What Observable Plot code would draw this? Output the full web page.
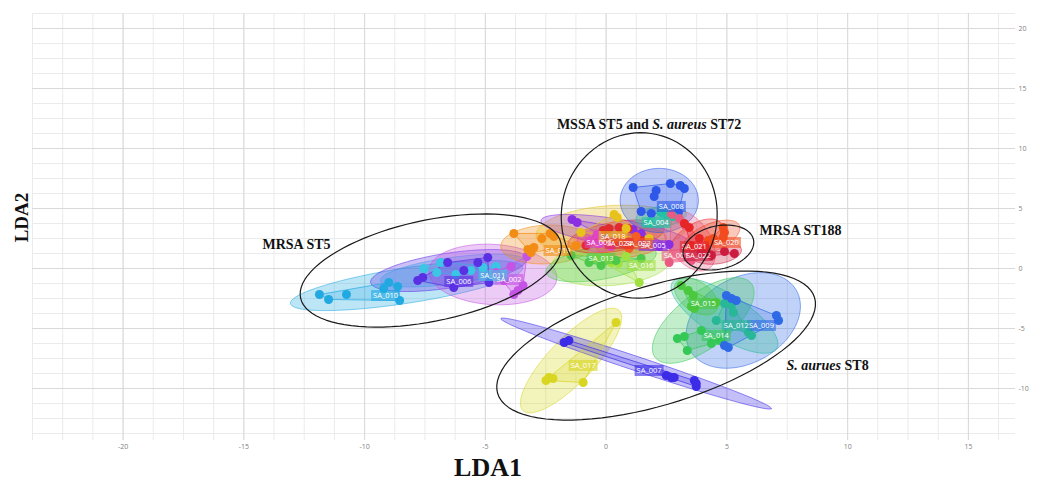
<!DOCTYPE html>
<html><head><meta charset="utf-8">
<script src="https://cdn.jsdelivr.net/npm/d3@7"></script>
<script src="https://cdn.jsdelivr.net/npm/@observablehq/plot@0.6"></script>
<style>
html,body{margin:0;padding:0;background:#fff;}
#chart{width:1040px;height:480px;}
</style></head><body><div id="chart"></div>
<script>
// ---- data ----
const groupNames = ["SA_001","SA_002","SA_003","SA_004","SA_005","SA_006","SA_007","SA_008","SA_009","SA_010","SA_011","SA_012","SA_013","SA_014","SA_015","SA_016","SA_017","SA_018","SA_019","SA_020","SA_021","SA_022","SA_023","SA_024"];
const groupColors = ["#ea5a82","#c453e6","#df46c4","#22c2a4","#8a2fe2","#5a30e4","#3c2ce8","#2d58ea","#2f6ae6","#22a9e2","#3ac6e4","#28b898","#4cc84a","#34c856","#4ac83e","#a0e040","#d8d622","#e8c21c","#f28c14","#f24c1e","#e62626","#cc1c40","#f45e26","#e02c2c"];
// label positions (LDA1, LDA2) of each group's name tag, same order as groupNames
const labelX = [2.90,-4.02,-0.29,2.07,1.95,-6.10,1.78,2.70,6.43,-9.13,-4.69,5.39,-0.21,4.56,4.02,1.45,-0.95,0.29,-1.99,4.98,3.65,3.82,1.33,0.54];
const labelY = [1.08,-0.92,2.17,3.83,1.92,-1.08,-8.5,5.17,-4.75,-2.25,-0.58,-4.75,0.83,-5.58,-2.92,0.25,-8.08,2.67,1.5,2.17,1.83,1.08,2.08,2.08];

const xTicks = [-20,-15,-10,-5,0,5,10,15];
const yTicks = [-10,-5,0,5,10,15,20];

// [group, LDA1, LDA2]
const pointRows = [
  ["SA_010",-11.87,-2.17],["SA_010",-11.49,-2.58],["SA_010",-10.75,-2.17],["SA_010",-9.21,-1.67],["SA_010",-9.00,-1.17],["SA_010",-8.63,-1.5],["SA_010",-8.55,-2.67],
  ["SA_011",-7.55,0],["SA_011",-7.01,-0.33],["SA_011",-6.22,-0.5],["SA_011",-5.60,-0.17],["SA_011",-5.10,0.08],["SA_011",-4.56,0.17],["SA_011",-6.85,0.5],
  ["SA_006",-7.80,-1.0],["SA_006",-7.59,-0.75],["SA_006",-6.56,0.5],["SA_006",-6.31,-1.58],["SA_006",-5.31,0.5],["SA_006",-4.90,0.92],["SA_006",-4.85,-1.17],["SA_006",-5.89,-0.17],
  ["SA_002",-4.56,-0.33],["SA_002",-3.94,0.17],["SA_002",-3.28,1.0],["SA_002",-3.44,-1.42],["SA_002",-3.65,-1.83],["SA_002",-3.82,-2.17],["SA_002",-4.23,-1.0],
  ["SA_019",-3.82,2.92],["SA_019",-3.24,1.58],["SA_019",-3.11,1.33],["SA_019",-2.99,1.75],["SA_019",-2.66,2.5],["SA_019",-2.32,2.92],["SA_019",-2.16,2.67],["SA_019",-1.24,1.92],
  ["SA_008",1.12,6.75],["SA_008",2.07,6.5],["SA_008",1.99,6.0],["SA_008",2.66,7.08],["SA_008",3.07,6.92],["SA_008",3.24,6.67],["SA_008",2.99,4.67],["SA_008",1.45,4.75],["SA_008",1.87,4.58],
  ["SA_005",-1.41,4.08],["SA_005",-1.20,3.83],["SA_005",-0.08,2.67],["SA_005",1.12,3.25],["SA_005",1.45,2.92],["SA_005",2.20,1.83],["SA_005",2.61,2.0],
  ["SA_024",-0.12,3.17],["SA_024",0.12,3.33],["SA_024",0.54,3.42],["SA_024",0.91,3.33],["SA_024",-0.41,2.5],["SA_024",1.45,2.33],["SA_024",-0.83,1.92],
  ["SA_023",0.62,2.5],["SA_023",1.24,2.67],["SA_023",1.66,2.0],["SA_023",0.95,1.67],["SA_023",0.29,2.08],
  ["SA_003",-0.62,2.33],["SA_003",-0.29,2.08],["SA_003",-0.37,2.83],["SA_003",0.21,1.83],
  ["SA_016",0.21,0.5],["SA_016",0.50,0.42],["SA_016",0,0.92],["SA_016",0.83,1.0],["SA_016",1.37,-1.17],["SA_016",-0.41,0.83],
  ["SA_013",-0.71,0.5],["SA_013",-0.21,0.25],["SA_013",0.41,0.67],["SA_013",-1.45,1.08],["SA_013",1.45,0.83],
  ["SA_018",0.33,4.5],["SA_018",0.46,4.25],["SA_018",-1.04,3.0],["SA_018",1.78,2.5],["SA_018",0.83,3.33],
  ["SA_004",2.28,4.67],["SA_004",2.49,4.5],["SA_004",2.78,4.33],["SA_004",1.78,3.83],
  ["SA_001",2.70,4.5],["SA_001",3.03,4.17],["SA_001",3.28,3.58],["SA_001",3.53,0.67],["SA_001",2.61,0.5],["SA_001",3.94,1.92],
  ["SA_020",4.85,3.42],["SA_020",4.90,3.0],["SA_020",4.85,2.58],["SA_020",4.23,2.33],["SA_020",4.44,2.5],
  ["SA_021",3.24,3.75],["SA_021",3.44,3.42],["SA_021",3.86,2.5],["SA_021",4.15,1.67],["SA_021",3.53,1.92],
  ["SA_022",4.90,1.42],["SA_022",5.31,1.25],["SA_022",4.36,1.08],["SA_022",3.94,1.33],
  ["SA_015",3.11,-1.42],["SA_015",3.40,-1.83],["SA_015",3.61,-2.25],["SA_015",3.53,-3.17],["SA_015",3.65,-3.33],["SA_015",4.56,-2.83],
  ["SA_014",2.95,-5.83],["SA_014",3.24,-5.67],["SA_014",3.36,-6.83],["SA_014",4.36,-6.25],["SA_014",4.69,-6.0],["SA_014",3.94,-5.17],
  ["SA_012",4.90,-2.92],["SA_012",5.19,-3.08],["SA_012",5.27,-3.67],["SA_012",5.89,-5.33],["SA_012",6.02,-5.58],["SA_012",4.56,-4.33],
  ["SA_009",4.98,-2.25],["SA_009",5.19,-2.5],["SA_009",7.05,-3.92],["SA_009",7.14,-4.33],["SA_009",4.90,-6.42],["SA_009",5.06,-6.58],["SA_009",5.39,-2.67],
  ["SA_017",0.41,-4.5],["SA_017",-2.49,-9.33],["SA_017",-2.37,-9.08],["SA_017",-2.20,-9.17],["SA_017",-0.95,-9.5],
  ["SA_007",-1.74,-6.17],["SA_007",-1.54,-6.0],["SA_007",2.49,-8.92],["SA_007",2.70,-9.08],["SA_007",2.82,-9.08],["SA_007",3.65,-9.33],["SA_007",3.73,-9.58],["SA_007",3.73,-9.83]
];

// confidence ellipses: [group, centre LDA1, centre LDA2, half major axis dLDA1, dLDA2, minor/major ratio]
const ellipseRows = [
  ["SA_010",-8.26,-1.42,4.81,1.5,0.15],
  ["SA_011",-6.35,-0.17,2.99,0.83,0.18],
  ["SA_006",-6.51,-0.17,3.24,1.0,0.22],
  ["SA_002",-4.69,-0.5,2.65,-0.33,0.47],
  ["SA_019",-2.45,2.0,1.91,0.17,0.42],
  ["SA_018",0.21,3.17,3.11,0.42,0.33],
  ["SA_016",0.21,0.5,2.49,0.42,0.38],
  ["SA_013",-0.21,0.5,2.28,0.83,0.3],
  ["SA_005",0.41,3.0,3.11,-1.0,0.18],
  ["SA_024",0.41,2.67,1.99,0.67,0.3],
  ["SA_023",1.04,2.17,1.45,0.42,0.4],
  ["SA_003",-0.29,2.33,0.91,0,0.5],
  ["SA_008",2.20,5.67,1.62,0,0.82],
  ["SA_004",2.28,4.33,1.04,0.25,0.4],
  ["SA_001",3.44,2.33,0.83,-2.33,0.6],
  ["SA_020",4.36,2.58,1.16,1.0,0.45],
  ["SA_021",3.73,2.5,1.04,1.25,0.5],
  ["SA_022",4.56,1.33,1.04,0.25,0.45],
  ["SA_009",5.68,-4.33,2.20,2.5,0.7],
  ["SA_014",4.02,-4.33,1.99,3.08,0.45],
  ["SA_012",4.90,-3.92,2.16,-2.75,0.35],
  ["SA_015",3.73,-2.33,0.83,-1.17,0.6],
  ["SA_017",-1.45,-7.67,1.99,4.17,0.32],
  ["SA_007",1.24,-7.92,5.60,-3.75,0.05]
];

// group outlines (black)
const outlineRows = [
  ["ST5",-7.26,-0.17,5.39,2.29,0.38],
  ["ST5_72",1.37,4.42,0.50,6.83,0.94],
  ["ST188",4.65,1.75,1.45,0.67,0.6],
  ["ST8",2.07,-6.42,6.56,4.0,0.36]
];

const annotationText = ["MSSA ST5 and S. aureus ST72","MRSA ST188","MRSA ST5","S. aurues ST8"];
const annotationX = [1.78, 6.35, -11.41, 7.47];
const annotationY = [12.0, 3.17, 2.0, -8.08];
const annotationAnchor = ["middle","start","end","start"];

// ---- layout ----
const W = 1040, H = 480, mL = 32, mR = 25, mT = 13, mB = 47;
const xDomain = [-23.75, 16.95], yDomain = [-13.75, 21.25];
const k = ((W - mL - mR) / (xDomain[1] - xDomain[0])) / ((H - mT - mB) / (yDomain[1] - yDomain[0]));
const xMinor = d3.range(-23.75, 16.3, 1.25);
const yMinor = d3.range(-13.75, 21.3, 1.25);

function ellipse(rows) {
  return rows.flatMap(([id, cx, cy, ax, ay, r]) => {
    const bx = -r * ay / k, by = r * ax * k;
    return d3.range(90).map(i => {
      const t = i / 90 * 2 * Math.PI;
      return {id, x: cx + ax * Math.cos(t) + bx * Math.sin(t), y: cy + ay * Math.cos(t) + by * Math.sin(t)};
    });
  });
}

const points = pointRows.map(([group, x, y]) => ({group, x, y}));
const ellipses = ellipse(ellipseRows);
const outlines = ellipse(outlineRows);
const labels = groupNames.map((group, i) => ({group, x: labelX[i], y: labelY[i]}));
const annotations = annotationText.map((t, i) => ({text: t, x: annotationX[i], y: annotationY[i], anchor: annotationAnchor[i]}));

const boxSymbol = {draw(context) { context.rect(-14.5, -5.5, 29, 11); }};
const serif = "'Liberation Serif','Times New Roman',serif";

const annotMark = (anchor) => Plot.text(annotations.filter(d => d.anchor === anchor), {
  x: "x", y: "y", text: "text", textAnchor: anchor, fontFamily: serif, fontWeight: "bold", fontSize: 14, fill: "#111"
});

const chart = Plot.plot({
  width: W, height: H,
  marginLeft: mL, marginRight: mR, marginTop: mT, marginBottom: mB,
  x: {domain: xDomain, axis: null},
  y: {domain: yDomain, axis: null},
  color: {domain: groupNames, range: groupColors},
  style: {fontFamily: "'Open Sans', sans-serif", background: "#fff", overflow: "visible"},
  marks: [
    Plot.ruleY(yMinor, {stroke: "#ebebeb", strokeWidth: 1}),
    Plot.ruleX(xMinor, {stroke: "#ebebeb", strokeWidth: 1, insetBottom: -7}),
    Plot.ruleY(yTicks, {stroke: "#d9d9d9", strokeWidth: 1}),
    Plot.ruleX(xTicks, {stroke: "#d9d9d9", strokeWidth: 1, insetBottom: -7}),
    Plot.axisX({ticks: xTicks, tickSize: 0, tickPadding: 11, tickFormat: d => String(d), fontSize: 7, color: "#808080", label: null}),
    Plot.axisY({ticks: yTicks, anchor: "right", tickSize: 0, tickPadding: 3, tickFormat: d => String(d), fontSize: 7, color: "#808080", label: null}),
    Plot.line(ellipses, {x: "x", y: "y", z: "id", fill: "id", fillOpacity: 0.3, stroke: "id", strokeOpacity: 0.55, strokeWidth: 1, curve: "linear-closed"}),
    Plot.hull(points, {x: "x", y: "y", z: "group", fill: "group", fillOpacity: 0.22, stroke: "group", strokeOpacity: 0.7, strokeWidth: 1}),
    Plot.dot(points, {x: "x", y: "y", fill: "group", r: 4.5}),
    Plot.dot(labels, {x: "x", y: "y", fill: "group", fillOpacity: 0.6, symbol: boxSymbol, r: 5}),
    Plot.text(labels, {x: "x", y: "y", text: "group", fill: "#fff", fontSize: 7.5}),
    Plot.line(outlines, {x: "x", y: "y", z: "id", stroke: "#1a1a1a", strokeWidth: 1.2, curve: "linear-closed"}),
    annotMark("middle"), annotMark("start"), annotMark("end"),
    Plot.text(["LDA1"], {text: d => d, frameAnchor: "bottom", textAnchor: "middle", lineAnchor: "middle", dx: -36, dy: 34, fontFamily: serif, fontWeight: "bold", fontSize: 26, fill: "#111"}),
    Plot.text(["LDA2"], {text: d => d, frameAnchor: "left", textAnchor: "middle", lineAnchor: "middle", dx: -11, dy: -6, rotate: -90, fontFamily: serif, fontWeight: "bold", fontSize: 19, fill: "#111"})
  ]
});

// italic species names
const italicParts = {"MSSA ST5 and S. aureus ST72": ["MSSA ST5 and ", "S. aureus", " ST72"], "S. aurues ST8": ["", "S. aurues", " ST8"]};
chart.querySelectorAll("text").forEach(t => {
  const parts = italicParts[t.textContent];
  if (parts) {
    t.textContent = "";
    parts.forEach((p, i) => {
      if (!p) return;
      const ts = document.createElementNS("http://www.w3.org/2000/svg", "tspan");
      ts.textContent = p;
      if (i === 1) ts.setAttribute("font-style", "italic");
      t.appendChild(ts);
    });
  }
});
document.getElementById("chart").appendChild(chart);
</script></body></html>
